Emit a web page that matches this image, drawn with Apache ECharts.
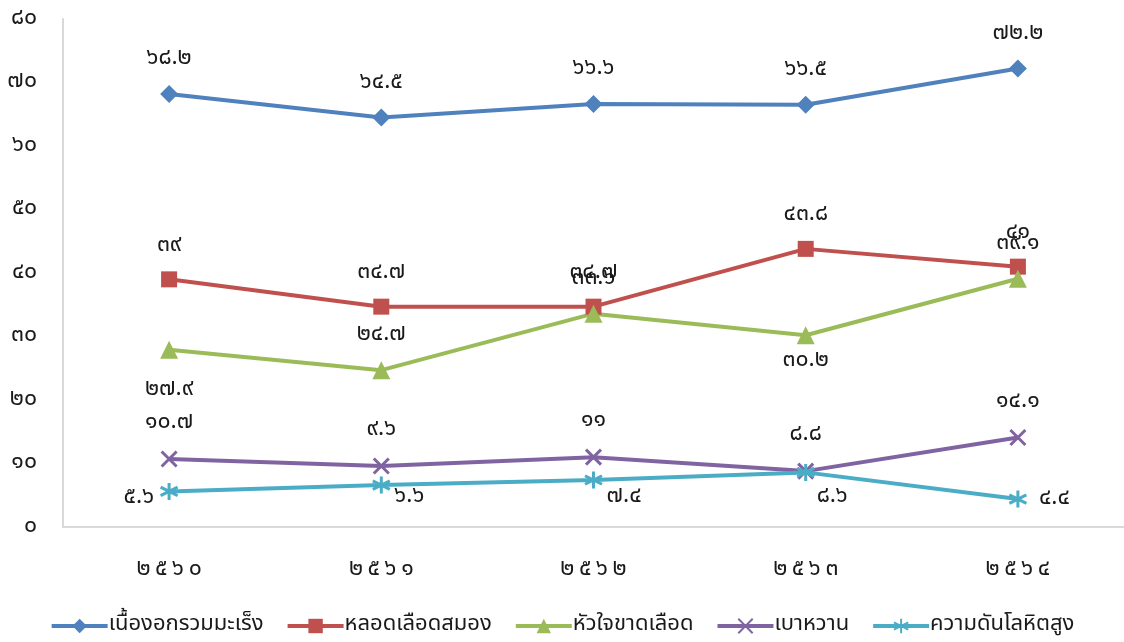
<!DOCTYPE html>
<html>
<head>
<meta charset="utf-8">
<script src="https://cdn.jsdelivr.net/npm/echarts@6/dist/echarts.min.js"></script>
<style>
  html, body { margin: 0; padding: 0; background: #fff; }
  #chart { width: 1124px; height: 642px; }
</style>
</head>
<body>
<div id="chart"></div>
<script>
const years = ['2560', '2561', '2562', '2563', '2564']
const cancer = [68.2, 64.5, 66.6, 66.5, 72.2]
const stroke = [39, 34.7, 34.7, 43.8, 41]
const heart = [27.9, 24.7, 33.6, 30.2, 39.1]
const diabetes = [10.7, 9.6, 11, 8.8, 14.1]
const pressure = [5.6, 6.6, 7.4, 8.6, 4.4]
const names = ['เนื้องอกรวมมะเร็ง', 'หลอดเลือดสมอง', 'หัวใจขาดเลือด', 'เบาหวาน', 'ความดันโลหิตสูง']

const thaiDigits = '๐๑๒๓๔๕๖๗๘๙'
const toThai = (v) => String(v).replace(/\d/g, (d) => thaiDigits[d])

const font = "'Noto Sans Thai', 'Noto Sans', Tahoma, sans-serif"
const textColor = '#1a1a1a'

const baseLabel = {
  show: true,
  position: 'top',
  distance: 14,
  fontSize: 23,
  fontFamily: font,
  color: textColor,
  formatter: (p) => toThai(p.value),
}

// single labels that sit somewhere else than above the point
const withLabels = (values, special) =>
  values.map((v, i) => (special[i] ? { value: v, label: special[i] } : v))

const myChart = echarts.init(document.getElementById('chart'), null, {
  renderer: 'canvas',
})

const lineSeries = (name, data, color, symbol, extra) => ({
  name: name,
  type: 'line',
  data: data,
  symbol: symbol,
  symbolSize: 16,
  lineStyle: { width: 4, color: color },
  itemStyle: { color: color },
  label: baseLabel,
  ...extra,
})

const option = {
  animation: false,
  textStyle: { fontFamily: font },
  grid: { left: 63, right: -1, top: 19, bottom: 115 },
  xAxis: {
    type: 'category',
    data: years,
    boundaryGap: true,
    axisLine: { lineStyle: { color: '#d9d9d9', width: 2 } },
    axisTick: { show: false },
    axisLabel: {
      margin: 32,
      fontSize: 23,
      color: textColor,
      fontFamily: font,
      formatter: (v) => toThai(v).split('').join('\u2009'),
    },
  },
  yAxis: {
    type: 'value',
    min: 0,
    max: 80,
    interval: 10,
    axisLine: { show: true, lineStyle: { color: '#d9d9d9', width: 2 } },
    axisTick: { show: false },
    splitLine: { show: false },
    axisLabel: {
      margin: 26,
      fontSize: 23,
      color: textColor,
      fontFamily: font,
      formatter: (v) => toThai(v),
    },
  },
  legend: {
    bottom: 0,
    left: 'center',
    itemWidth: 56,
    itemHeight: 18,
    itemGap: 22,
    lineStyle: { width: 4 },
    textStyle: { fontSize: 22, color: textColor, fontFamily: font, padding: [0, 0, 0, -4] },
    data: names,
  },
  series: [
    lineSeries(names[0], cancer, '#4f81bd', 'diamond', { symbolSize: 18 }),
    lineSeries(names[1], stroke, '#c0504d', 'rect', { symbolSize: 16 }),
    lineSeries(
      names[2],
      withLabels(heart, {
        0: { position: 'bottom', distance: 20 },
        3: { position: 'bottom', distance: 6 },
      }),
      '#9bbb59',
      'triangle',
      { symbolSize: 18 }
    ),
    lineSeries(names[3], diabetes, '#8064a2', 'path://M0,0L10,10M10,0L0,10', {
      symbolSize: 15,
      itemStyle: { color: 'none', borderColor: '#8064a2', borderWidth: 3 },
    }),
    lineSeries(
      names[4],
      withLabels(pressure, {
        0: { position: 'left', distance: 4, offset: [0, 7] },
        1: { position: 'right', distance: 2, offset: [0, 12] },
        2: { position: 'right', distance: 2, offset: [0, 17] },
        3: { position: 'right', distance: 0, offset: [0, 25] },
        4: { position: 'right', distance: 10, offset: [0, 0] },
      }),
      '#4bacc6',
      'path://M5,0L5,10M0.7,2.5L9.3,7.5M0.7,7.5L9.3,2.5',
      {
        symbolSize: 17,
        itemStyle: { color: 'none', borderColor: '#4bacc6', borderWidth: 3 },
      }
    ),
  ],
}

option && myChart.setOption(option)
</script>
</body>
</html>
